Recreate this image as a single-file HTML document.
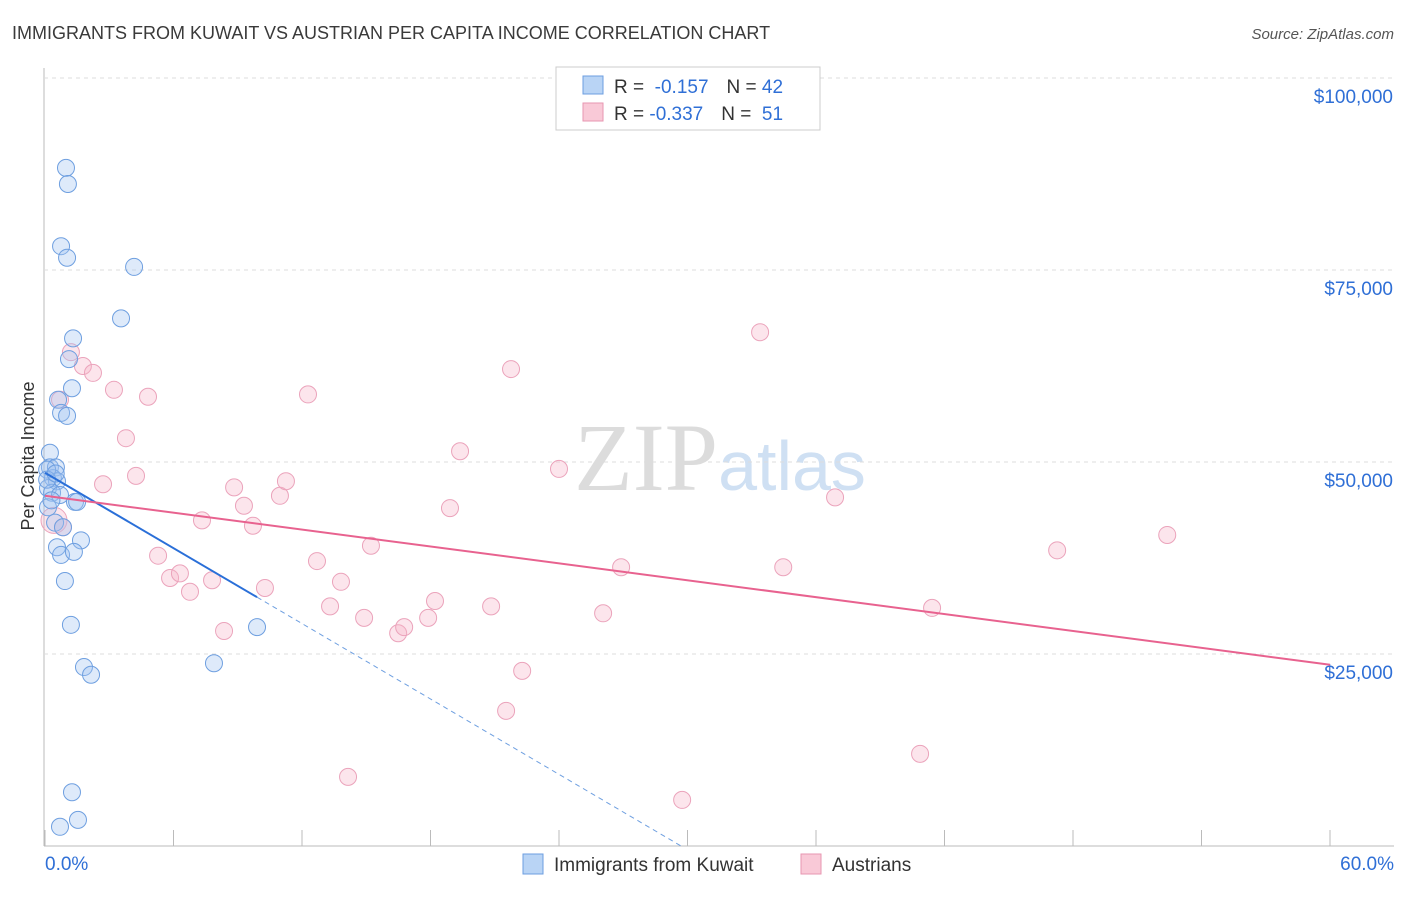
<!DOCTYPE html>
<html><head><meta charset="utf-8"><style>
body{margin:0;background:#fff;font-family:"Liberation Sans",sans-serif}
svg text{font-family:"Liberation Sans",sans-serif}
</style></head><body>
<svg id="c" width="1406" height="892" xmlns="http://www.w3.org/2000/svg">
<text x="12" y="39" font-size="18" fill="#3a3a3a">IMMIGRANTS FROM KUWAIT VS AUSTRIAN PER CAPITA INCOME CORRELATION CHART</text>
<text x="1394" y="39" font-size="15" fill="#555" font-style="italic" text-anchor="end">Source: ZipAtlas.com</text>
<text x="720" y="490" font-size="96" fill="#e4e4e4" text-anchor="middle" font-family="Liberation Serif"><tspan fill="#dcdcdc" font-family="Liberation Serif">ZIP</tspan><tspan fill="#cfe0f3" font-family="Liberation Sans" font-size="70">atlas</tspan></text>
<text transform="translate(34,456) rotate(-90)" font-size="18" fill="#333" text-anchor="middle">Per Capita Income</text>
<g id="grid"></g><g id="pts"></g><g id="trend"></g>
<g>
<rect x="556" y="67" width="264" height="63" fill="#fff" stroke="#ccc"/>
<rect x="583" y="76" width="20" height="18" fill="#b9d4f5" stroke="#6c9ee0"/>
<rect x="583" y="103" width="20" height="18" fill="#f9c9d7" stroke="#e796b0"/>
<text x="614" y="93" font-size="19" fill="#333">R = <tspan fill="#2f6fd6">&#160;-0.157</tspan><tspan dx="18">N = </tspan><tspan fill="#2f6fd6">42</tspan></text>
<text x="614" y="120" font-size="19" fill="#333">R = <tspan fill="#2f6fd6">-0.337</tspan><tspan dx="18">N = </tspan><tspan fill="#2f6fd6">&#160;51</tspan></text>
</g>
<g>
<rect x="523" y="854" width="20" height="20" fill="#b9d4f5" stroke="#6c9ee0"/>
<text x="554" y="871" font-size="19" fill="#333">Immigrants from Kuwait</text>
<rect x="801" y="854" width="20" height="20" fill="#f9c9d7" stroke="#e796b0"/>
<text x="832" y="871" font-size="19" fill="#333">Austrians</text>
</g>
<text x="45" y="870" font-size="19" fill="#2f6fd6">0.0%</text>
<text x="1394" y="870" font-size="19" fill="#2f6fd6" text-anchor="end">60.0%</text>
</svg>
<script>
const yTicks=[25000,50000,75000,100000];
const yTickLabels=["$25,000","$50,000","$75,000","$100,000"];
const xTicks=[0,6,12,18,24,30,36,42,48,54,60];
const kuwaitX=[0.98,1.07,0.75,1.03,4.16,3.55,1.31,1.12,1.26,0.61,0.75,1.03,0.23,0.23,0.51,0.37,0.56,0.14,0.33,0.70,1.40,1.50,0.14,0.47,0.84,1.68,0.56,0.75,1.35,0.93,1.21,9.90,1.82,2.15,7.89,1.26,1.54,0.70,0.1,0.1,0.3,0.5];
const kuwaitY=[88.3,86.2,78.1,76.6,75.4,68.7,66.1,63.4,59.6,58.1,56.4,56.0,51.2,49.3,49.3,47.9,47.5,46.6,46.0,45.7,44.8,44.8,44.1,42.1,41.5,39.8,38.9,37.9,38.3,34.5,28.8,28.5,23.3,22.3,23.8,7.0,3.4,2.5,49.0,47.7,45.0,48.5];
const austX=[1.21,1.77,2.24,3.22,4.81,0.70,3.78,4.25,2.71,0.42,0.84,5.28,5.84,6.30,6.77,7.33,7.80,8.36,8.83,9.29,9.71,10.27,10.97,11.25,12.28,12.70,13.31,13.82,14.15,14.90,15.22,16.49,16.77,17.89,18.21,18.91,19.38,20.83,21.53,21.76,22.28,24.00,26.06,26.90,29.75,33.39,34.47,36.89,40.86,41.42,47.26,52.40];
const austY=[64.3,62.5,61.6,59.4,58.5,58.1,53.1,48.2,47.1,42.4,41.5,37.8,34.9,35.5,33.1,42.4,34.6,28.0,46.7,44.3,41.7,33.6,45.6,47.5,58.8,37.1,31.2,34.4,9.0,29.7,39.1,27.7,28.5,29.7,31.9,44.0,51.4,31.2,17.6,62.1,22.8,49.1,30.3,36.3,6.0,66.9,36.3,45.4,12.0,31.0,38.5,40.5];
const kuwaitTrend=[48.6,32.4]; const kuwaitTrendX=[0,9.9,31.3];
const austTrend=[45.6,23.6];
const NS="http://www.w3.org/2000/svg";
const sx=v=>45+v*(1330-45)/60;
const sy=v=>846-v/25000*192;
function mk(tag,attrs,parent){const e=document.createElementNS(NS,tag);for(const k in attrs)e.setAttribute(k,attrs[k]);document.getElementById(parent).appendChild(e);return e;}
let ax=mk('line',{x1:44,y1:68,x2:44,y2:846,stroke:'#bbb'},'grid');


let bx=mk('line',{x1:44,y1:846,x2:1394,y2:846,stroke:'#bbb'},'grid');


xTicks.forEach(t=>{const l=mk('line',{x1:sx(t),y1:830,x2:sx(t),y2:846,stroke:'#bbb'},'grid');

});
yTicks.forEach((t,i)=>{const g=mk('line',{x1:44,y1:sy(t),x2:1394,y2:sy(t),stroke:'#ddd','stroke-dasharray':'4,4'},'grid');


const tx=mk('text',{x:1393,y:sy(t)+25,'font-size':19,fill:'#2f6fd6','text-anchor':'end'},'grid');tx.textContent=yTickLabels[i];

});
const gl=mk('line',{x1:44,y1:78,x2:1394,y2:78,stroke:'#ddd','stroke-dasharray':'4,4'},'grid');


austX.forEach((x,i)=>{const c=mk('circle',{cx:sx(x),cy:sy(austY[i]*1000),r:i==9?13:8.5,fill:'rgba(247,180,200,0.35)',stroke:'#eba3bb','stroke-width':1},'pts');

});
kuwaitX.forEach((x,i)=>{const c=mk('circle',{cx:sx(x),cy:sy(kuwaitY[i]*1000),r:8.5,fill:'rgba(160,196,240,0.35)',stroke:'#6e9fe0','stroke-width':1},'pts');

});
const slope=(kuwaitTrend[1]-kuwaitTrend[0])/kuwaitTrendX[1];
const kEndY=Math.max(0,kuwaitTrend[0]+slope*kuwaitTrendX[2]);
const kEndX=(kEndY-kuwaitTrend[0])/slope;
let d=mk('line',{x1:sx(kuwaitTrendX[1]),y1:sy(kuwaitTrend[1]*1000),x2:sx(kEndX),y2:sy(kEndY*1000),stroke:'#6e9fe0','stroke-dasharray':'5,4','stroke-width':1},'trend');


let k=mk('line',{x1:sx(0),y1:sy(kuwaitTrend[0]*1000),x2:sx(kuwaitTrendX[1]),y2:sy(kuwaitTrend[1]*1000),stroke:'#2a6fd8','stroke-width':2},'trend');


let a=mk('line',{x1:sx(0),y1:sy(austTrend[0]*1000),x2:sx(60),y2:sy(austTrend[1]*1000),stroke:'#e8628f','stroke-width':2},'trend');


</script>
</body></html>
